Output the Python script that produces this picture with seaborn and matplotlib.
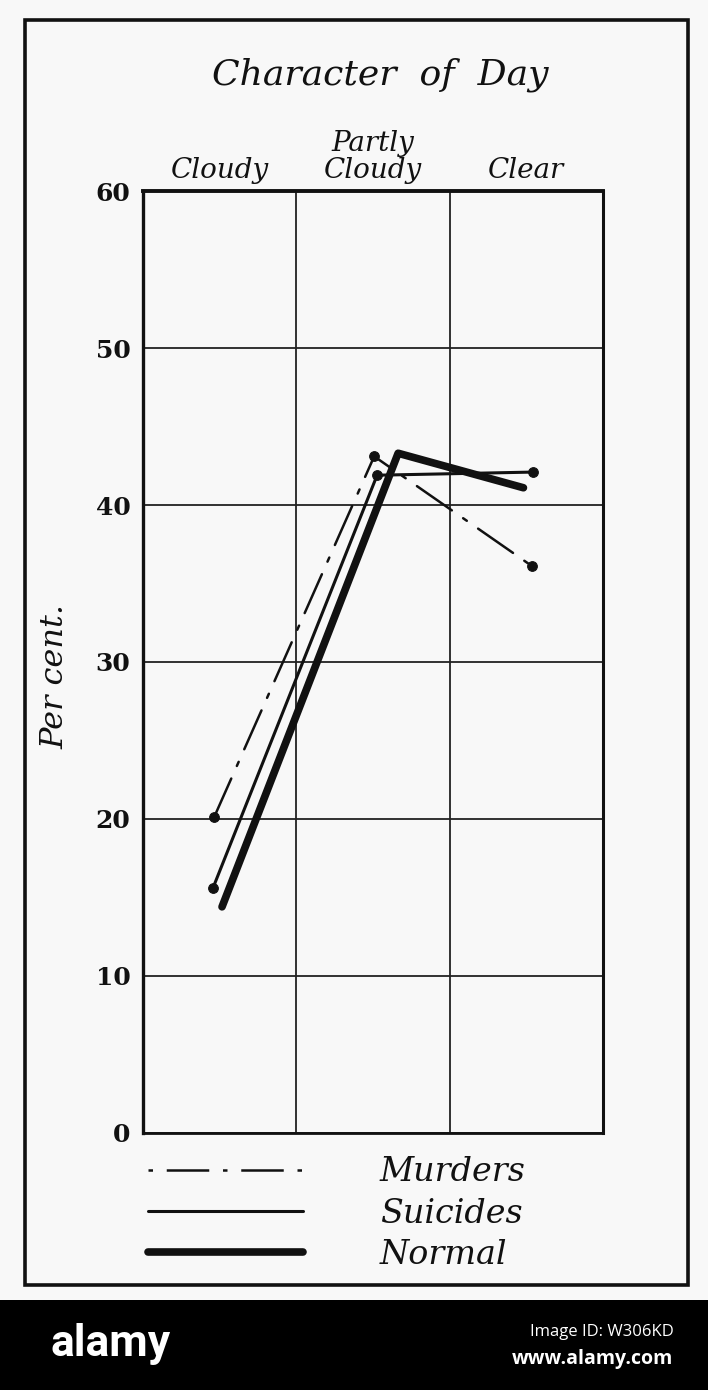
import matplotlib
matplotlib.use('Agg')
import matplotlib.pyplot as plt
import seaborn as sns
import pandas as pd
from matplotlib.lines import Line2D
from matplotlib.patches import Rectangle

# --- data ---
categories = ["Cloudy", "Partly\nCloudy", "Clear"]
murders = [20.1, 43.1, 36.1]
suicides = [15.6, 41.9, 42.1]
normal = [14.4, 43.3, 41.1]
y_ticks = [0, 10, 20, 30, 40, 50, 60]

# small horizontal nudges the printer used so the lines don't sit on top of each other
nudge = {
    "Murders": [-0.037, 0.007, 0.037],
    "Suicides": [-0.044, 0.026, 0.044],
    "Normal": [0.015, 0.163, -0.02],
}

sns.set_theme(style="white")
paper = "#f8f8f8"
ink = "#111111"
serif_it = dict(family="DejaVu Serif", style="italic")

fig = plt.figure(figsize=(7.08, 13.9), dpi=100, facecolor="white")

# page background + printed border
fig.patches.append(Rectangle((0, 0.0647), 1, 1 - 0.0647, transform=fig.transFigure,
                             facecolor=paper, edgecolor="none", zorder=-3))
fig.patches.append(Rectangle((0.0353, 0.0755), 0.9364, 0.910, transform=fig.transFigure,
                             facecolor="none", edgecolor=ink, linewidth=2.6, zorder=-2))

ax = fig.add_axes([0.202, 0.185, 0.650, 0.6775])
ax.set_facecolor(paper)

dashdot = (17, 5.5, 1.8, 5.5)
series = {
    "Murders": dict(values=murders, lw=1.8, ls=(0, dashdot), marker="o", ms=7),
    "Suicides": dict(values=suicides, lw=2.2, ls="-", marker="o", ms=7),
    "Normal": dict(values=normal, lw=5.5, ls="-", marker=None, ms=0),
}

for name, st in series.items():
    df = pd.DataFrame({"x": [i + d for i, d in enumerate(nudge[name])], "y": st["values"]})
    sns.lineplot(data=df, x="x", y="y", ax=ax, color=ink, linewidth=st["lw"],
                 linestyle=st["ls"], marker=st["marker"], markersize=st["ms"],
                 markeredgecolor=ink, markerfacecolor=ink, solid_capstyle="round",
                 dash_capstyle="round", legend=False, zorder=3)

ax.set_xlim(-0.5, 2.5)
ax.set_ylim(0, 60)

# category labels across the top
ax.xaxis.tick_top()
ax.set_xticks(range(len(categories)))
ax.set_xticklabels(categories, fontdict=dict(size=20, **serif_it), linespacing=1.0)
ax.set_xticks([0.5, 1.5], minor=True)
ax.tick_params(axis="x", which="both", length=0, pad=5, labelcolor=ink)

ax.set_yticks(y_ticks)
ax.set_yticklabels([str(v) for v in y_ticks], family="DejaVu Serif", weight="bold", size=18)
ax.tick_params(axis="y", length=4, width=1.2, color=ink, pad=5, labelcolor=ink)

ax.grid(True, axis="y", which="major", color="#222222", linewidth=1.3)
ax.grid(True, axis="x", which="minor", color="#222222", linewidth=1.3)
ax.set_axisbelow(True)

for side, w in {"top": 2.8, "left": 2.4, "bottom": 2.0, "right": 2.2}.items():
    ax.spines[side].set_visible(True)
    ax.spines[side].set_color(ink)
    ax.spines[side].set_linewidth(w)

ax.set_xlabel("")
ax.set_ylabel("")

fig.text(0.537, 0.946, "Character  of  Day", ha="center", va="center", size=26, color=ink, **serif_it)
fig.text(0.078, 0.513, "Per cent.", ha="center", va="center", rotation=90, size=23, color=ink, **serif_it)

# legend below the chart, no markers
handles = [
    Line2D([], [], color=ink, lw=series["Murders"]["lw"], ls=(dashdot[0] + dashdot[1], dashdot)),
    Line2D([], [], color=ink, lw=series["Suicides"]["lw"]),
    Line2D([], [], color=ink, lw=series["Normal"]["lw"]),
]
leg = fig.legend(handles, list(series.keys()), loc="upper left", bbox_to_anchor=(0.209, 0.168),
                 frameon=False, handlelength=4.65, handletextpad=2.3, labelspacing=0.28,
                 borderpad=0, borderaxespad=0, labelcolor=ink, prop=dict(size=24, **serif_it))

# stock-site strip at the bottom of the scan
fig.patches.append(Rectangle((0, 0), 1, 0.0647, transform=fig.transFigure,
                             facecolor="black", edgecolor="none", zorder=-1))
fig.text(0.072, 0.033, "alamy", ha="left", va="center", size=32, weight="bold",
         color="white", family="Roboto", stretch="condensed")
fig.text(0.951, 0.042, "Image ID: W306KD", ha="right", va="center", size=12, color="white", family="Open Sans")
fig.text(0.951, 0.022, "www.alamy.com", ha="right", va="center", size=14, weight="bold",
         color="white", family="Open Sans")

fig.savefig("out.png", dpi=100, facecolor=fig.get_facecolor())
plt.close(fig)
